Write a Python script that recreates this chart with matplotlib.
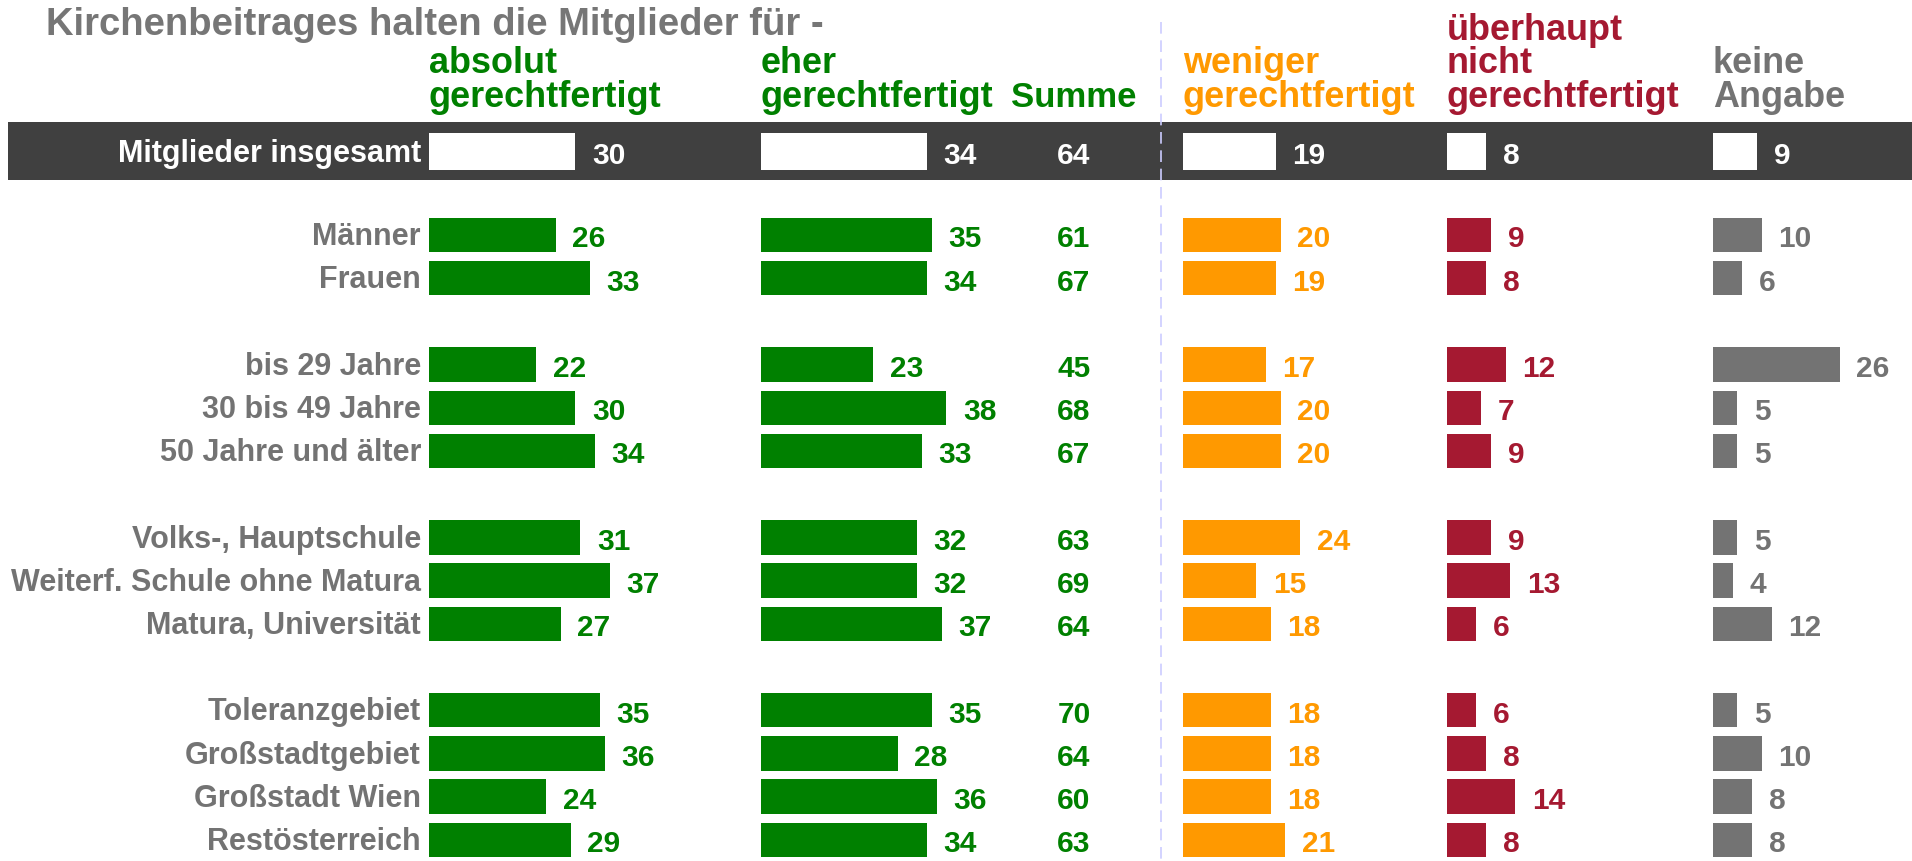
import matplotlib.pyplot as plt
from matplotlib.patches import Rectangle

# data
group_labels = [
    ["Mitglieder insgesamt"],
    ["Männer", "Frauen"],
    ["bis 29 Jahre", "30 bis 49 Jahre", "50 Jahre und älter"],
    ["Volks-, Hauptschule", "Weiterf. Schule ohne Matura", "Matura, Universität"],
    ["Toleranzgebiet", "Großstadtgebiet", "Großstadt Wien", "Restösterreich"],
]
absolut = [30, 26, 33, 22, 30, 34, 31, 37, 27, 35, 36, 24, 29]
eher = [34, 35, 34, 23, 38, 33, 32, 32, 37, 35, 28, 36, 34]
summe = [64, 61, 67, 45, 68, 67, 63, 69, 64, 70, 64, 60, 63]
weniger = [19, 20, 19, 17, 20, 20, 24, 15, 18, 18, 18, 18, 21]
ueberhaupt = [8, 9, 8, 12, 7, 9, 9, 13, 6, 6, 8, 14, 8]
keine = [9, 10, 6, 26, 5, 5, 5, 4, 12, 5, 10, 8, 8]

title = "Kirchenbeitrages halten die Mitglieder für -"
summe_header = "Summe"

GREEN = '#008000'
ORANGE = '#FF9900'
RED = '#A51931'
GRAY = '#737373'
BAND = '#404040'

# layout (pixels)
W, H = 1912, 861
PX_UNIT = 4.88
ROW0, ROW_H = 148.6, 43.2

def ry(px):
    return (px - ROW0) / ROW_H

Y_TOP, Y_BOT = ry(0), ry(H)

# row positions: one empty row between groups
labels, rows = [], []
pos = 0.07
for gi, grp in enumerate(group_labels):
    if gi == 1:
        pos = 2
    for lab in grp:
        labels.append(lab)
        rows.append(pos)
        pos += 1
    pos += 1

plt.rcParams['font.family'] = ['Liberation Sans', 'DejaVu Sans']
plt.rcParams['font.weight'] = 'bold'

fig = plt.figure(figsize=(W / 100, H / 100), dpi=100)
base = fig.add_axes([0, 0, 1, 1])
base.set_xlim(0, W)
base.set_ylim(Y_BOT, Y_TOP)
base.axis('off')

# dark band for the total row
base.add_patch(Rectangle((8, ry(122)), W - 8, ry(180) - ry(122), color=BAND, lw=0, zorder=0))
base.plot([1161, 1161], [ry(22), Y_BOT], color='#CCCCFF', lw=1.2, ls=(0, (7, 4)), zorder=1)

base.text(46, ry(35), title, color='#767676', fontsize=27.5, va='baseline', ha='left')

for i, (lab, r) in enumerate(zip(labels, rows)):
    base.text(421, r + 0.05, lab, ha='right', va='center', fontsize=22,
              color='white' if i == 0 else GRAY, zorder=3)
    base.text(1074, r + 0.1, str(summe[i]), ha='center', va='center', fontsize=21.5,
              color='white' if i == 0 else GREEN, zorder=3)

columns = [
    (absolut, GREEN, 429, "absolut\ngerechtfertigt"),
    (eher, GREEN, 761, "eher\ngerechtfertigt"),
    (weniger, ORANGE, 1183, "weniger\ngerechtfertigt"),
    (ueberhaupt, RED, 1447, "überhaupt\nnicht\ngerechtfertigt"),
    (keine, GRAY, 1713, "keine\nAngabe"),
]

base.text(1074, ry(107), summe_header, ha='center', va='baseline', fontsize=25,
          color=GREEN)

for vals, col, left, head in columns:
    base.text(left, ry(107), head, ha='left', va='baseline', fontsize=25.9,
              color=col, linespacing=0.95)
    ax = fig.add_axes([left / W, 0, 190 / W, 1])
    ax.set_xlim(0, 190 / PX_UNIT)
    ax.set_ylim(Y_BOT, Y_TOP)
    ax.axis('off')
    heights = [0.85] + [0.8] * (len(vals) - 1)
    colors = ['white'] + [col] * (len(vals) - 1)
    ax.barh(rows, vals, height=heights, color=colors, lw=0, zorder=2)
    for i, (v, r) in enumerate(zip(vals, rows)):
        ax.text(v + 3.4, r + 0.1, str(v), ha='left', va='center', fontsize=21.5,
                color='white' if i == 0 else col, clip_on=False, zorder=3)

fig.savefig('out.png', dpi=100)
